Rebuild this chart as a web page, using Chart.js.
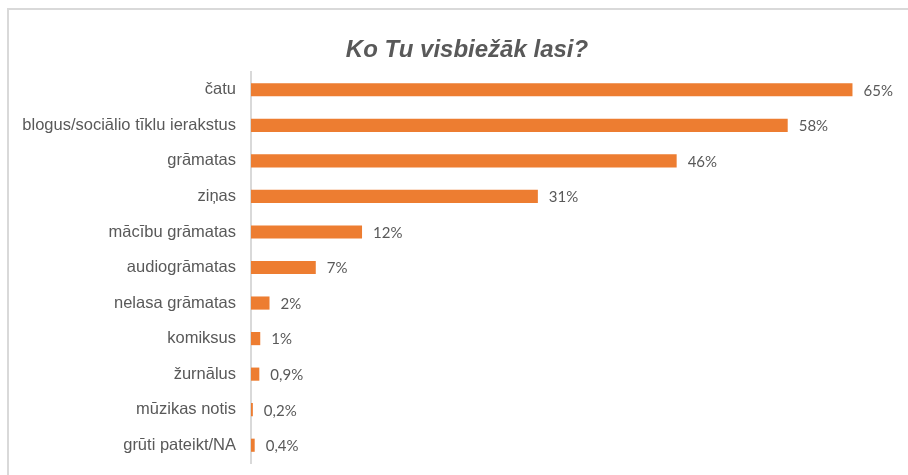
<!DOCTYPE html>
<html>
<head>
<meta charset="utf-8">
<script src="https://cdn.jsdelivr.net/npm/chart.js"></script>
<style>
  html, body { margin: 0; padding: 0; background: #fff; overflow: hidden; }
  #frame { position: absolute; left: 7px; top: 8px; width: 960px; height: 520px; border: 2px solid #d9d9d9; }
  #wrap { position: absolute; left: 0; top: 0; width: 908px; height: 475px; }
</style>
</head>
<body>
<div id="frame"></div>
<div id="wrap"><canvas id="chart" width="908" height="475"></canvas></div>
<script>
const chartTitle = 'Ko Tu visbiežāk lasi?';

// survey answers, top to bottom
const categories = [
  'čatu',
  'blogus/sociālio tīklu ierakstus',
  'grāmatas',
  'ziņas',
  'mācību grāmatas',
  'audiogrāmatas',
  'nelasa grāmatas',
  'komiksus',
  'žurnālus',
  'mūzikas notis',
  'grūti pateikt/NA'
];
const shares = [65, 58, 46, 31, 12, 7, 2, 1, 0.9, 0.2, 0.4];
const shareLabels = ['65%', '58%', '46%', '31%', '12%', '7%', '2%', '1%', '0,9%', '0,2%', '0,4%'];

// draws the value text just right of each bar
const valueLabels = {
  id: 'valueLabels',
  afterDatasetsDraw(chart) {
    const ctx = chart.ctx;
    const meta = chart.getDatasetMeta(0);
    ctx.save();
    ctx.font = '15px Lato';
    ctx.fillStyle = '#595959';
    ctx.textAlign = 'left';
    ctx.textBaseline = 'middle';
    meta.data.forEach((bar, i) => {
      ctx.fillText(shareLabels[i], bar.x + 11, bar.y + 1);
    });
    ctx.restore();
  }
};

// title sits a bit right of canvas centre, like the original
const offsetTitle = {
  id: 'offsetTitle',
  afterDraw(chart) {
    const ctx = chart.ctx;
    ctx.save();
    ctx.font = 'italic bold 24px "Liberation Sans"';
    ctx.fillStyle = '#595959';
    ctx.textAlign = 'center';
    ctx.textBaseline = 'middle';
    ctx.fillText(chartTitle, 467, 50);
    ctx.restore();
  }
};

const ctx = document.getElementById('chart').getContext('2d');
new Chart(ctx, {
  type: 'bar',
  data: {
    labels: categories,
    datasets: [{
      data: shares,
      backgroundColor: '#ED7D31',
      categoryPercentage: 1,
      barPercentage: 0.37
    }]
  },
  options: {
    indexAxis: 'y',
    responsive: false,
    animation: false,
    layout: { padding: { left: 0, right: 0, top: 72, bottom: 12 } },
    plugins: {
      legend: { display: false },
      tooltip: { enabled: false },
      title: { display: false }
    },
    scales: {
      x: {
        display: false,
        min: 0,
        max: 71
      },
      y: {
        afterFit(axis) {
          axis.width = 251;
          axis.paddingTop = 0;
          axis.paddingBottom = 0;
        },
        grid: { display: false },
        border: { display: true, color: '#d9d9d9', width: 2 },
        ticks: {
          color: '#595959',
          padding: 7,
          font: { family: 'Liberation Sans', size: 16.5 }
        }
      }
    }
  },
  plugins: [valueLabels, offsetTitle]
});
</script>
</body>
</html>
